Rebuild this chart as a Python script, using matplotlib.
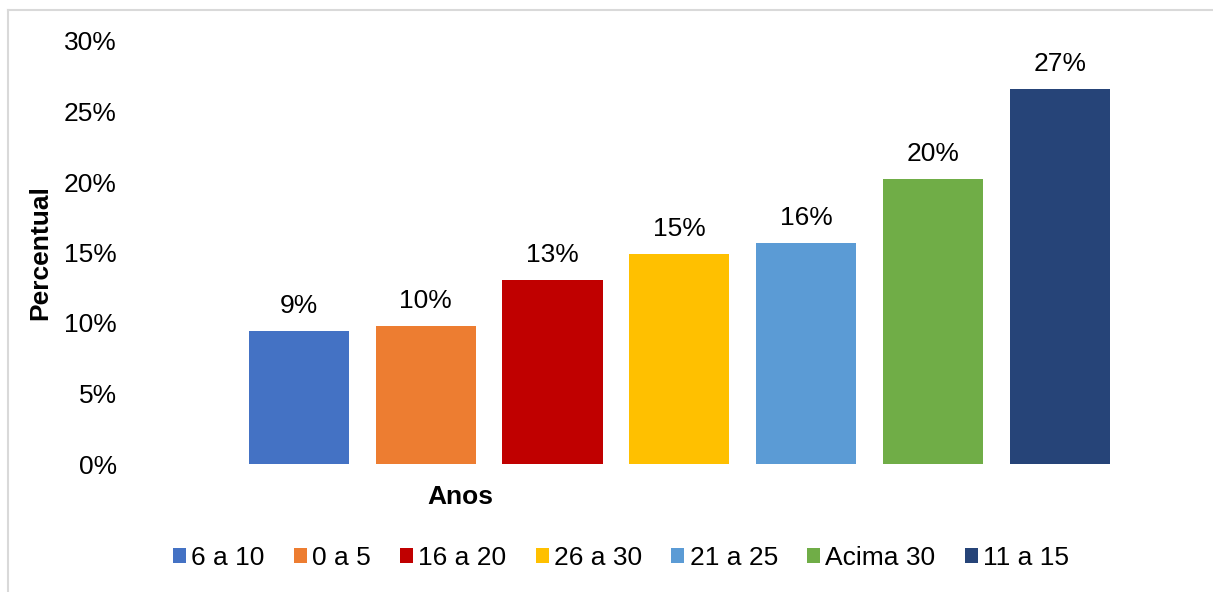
import matplotlib.pyplot as plt
from matplotlib.patches import Patch
from matplotlib.lines import Line2D

plt.rcParams["font.family"] = ["Liberation Sans", "DejaVu Sans"]

# faixas de anos e percentuais
faixas = ["6 a 10", "0 a 5", "16 a 20", "26 a 30", "21 a 25", "Acima 30", "11 a 15"]
percentual = [9.4, 9.8, 13.05, 14.9, 15.7, 20.2, 26.6]
cores = ["#4472C4", "#ED7D31", "#C00000", "#FFC000", "#5B9BD5", "#70AD47", "#264478"]
yticks = [0, 5, 10, 15, 20, 25, 30]

W, H = 1213, 592
fig = plt.figure(figsize=(W/100, H/100), dpi=100)
ax = fig.add_axes([125/W, 1-464/H, (1190-125)/W, (464-41)/H])

pos = list(range(len(faixas)))
ax.bar(pos, percentual, width=0.79, color=cores)
for x, v in zip(pos, percentual):
    ax.annotate(f"{v:.0f}%", (x, v), xytext=(0, 13), textcoords="offset points",
                ha="center", va="baseline", fontsize=19)

ax.set_xlim(-1.372, 7.027)
ax.set_ylim(0, 30)
ax.set_yticks(yticks)
ax.set_yticklabels([f"{t}%" for t in yticks], fontsize=19)
ax.set_xticks([])
ax.tick_params(axis="y", length=0, pad=6)
for s in ax.spines.values():
    s.set_visible(False)

ax.set_ylabel("Percentual", fontsize=19, fontweight="bold")
ax.yaxis.set_label_coords((52-125)/(1190-125), 0.5)
ax.set_xlabel("Anos", fontsize=19, fontweight="bold")
ax.xaxis.set_label_coords((460-125)/(1190-125), -(485-464)/(464-41))

handles = [Patch(facecolor=c) for c in cores]
fig.legend(handles, faixas, loc="center", bbox_to_anchor=(621/W, 1-558/H), ncol=7,
           frameon=False, fontsize=19, handlelength=0.5, handleheight=0.5,
           handletextpad=0.2, columnspacing=1.1)

# moldura cinza
fig.add_artist(Line2D([8/W, 8/W], [0, 1-10/H], color="#D9D9D9", lw=1.5))
fig.add_artist(Line2D([8/W, 1], [1-10/H, 1-10/H], color="#D9D9D9", lw=1.5))

fig.savefig("out.png", dpi=100)
